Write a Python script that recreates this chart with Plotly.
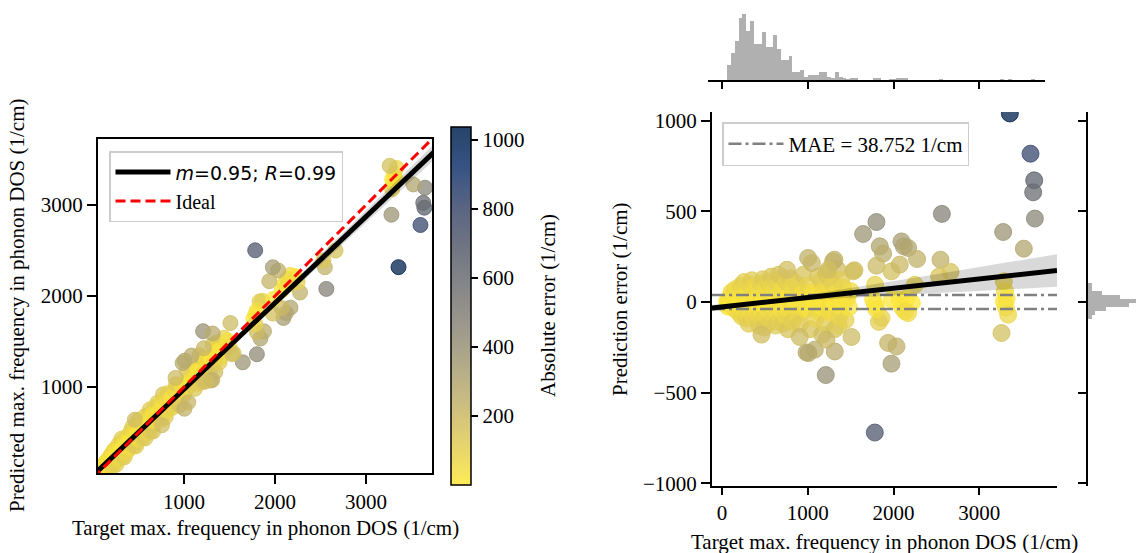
import numpy as np
import plotly.graph_objects as go

W, H = 1137, 553
FONT = "Liberation Serif, Times New Roman, serif"

# ---------------- data ----------------
# dense part of the data set: target value and prediction error (target - predicted)
cluster_target = [60, 66, 72, 85, 95, 100,
                  108, 112, 115, 122, 130, 138, 140, 145,
                  150, 155, 158, 165, 170, 172, 178, 185, 188, 190,
                  195, 198, 200, 205, 210, 212, 215, 218, 220, 225, 228, 230, 232, 235,
                  240, 243, 245, 248, 250, 255, 258, 260, 262, 265, 270, 272, 275, 278, 280,
                  285, 290, 295, 298, 300, 305, 310, 312, 315, 320, 325,
                  330, 335, 338, 340, 345, 348, 350, 355, 358, 360, 365, 368, 370,
                  375, 382, 386, 390, 398, 402, 405, 412,
                  420, 428, 432, 435, 442, 446, 450, 458,
                  465, 470, 474, 478, 485, 488, 492, 496, 500, 503,
                  510, 518, 522, 525, 532, 540, 547,
                  555, 562, 570, 575, 578, 585, 592,
                  598, 605, 608, 612, 620, 624, 628, 632, 635,
                  642, 650, 658, 660, 665, 672, 680,
                  688, 698, 708, 718, 725,
                  732, 742, 752, 762, 770,
                  778, 788, 798, 808, 815,
                  822, 840, 858, 870, 895, 912, 930, 948, 975,
                  1005, 1010, 1030, 1050, 1060, 1080, 1090, 1110, 1120,
                  1140, 1150, 1155, 1170, 1180, 1185, 1200, 1215, 1230,
                  1240, 1250, 1260, 1290, 1300, 1315, 1330, 1345, 1350,
                  1360, 1370, 1380, 1390, 1410, 1420, 1440, 1460, 1480, 1500]
cluster_error = [5, -25, -12, 20, -8, 30,
                 -20, 55, 15, 40, -5, 10, 25, -35,
                 12, 70, -40, 30, -30, 0, -15, 45, 20, -55,
                 -10, 60, 25, -60, 8, -45, 50, 90, -25, 15, 0, -80, -20, 35,
                 20, -65, -30, 30, 5, 65, 110, -15, -5, 40, -50, 80, 10, -20, -90,
                 15, -40, 55, 45, -10, 30, -70, -120, 5, 95, -25,
                 -15, 40, -5, -55, 20, 120, 75, -30, -45, 10, -85, 25, 50,
                 30, -20, 85, 60, -60, -35, 10, -100,
                 -10, 45, -130, -75, 20, 65, 100, -40,
                 35, -55, 125, 15, -95, -5, 70, -140, -20, 50,
                 -30, 60, 0, -80, 20, 105, -50,
                 40, -15, -110, 140, 80, -60, 15,
                 -25, 55, 30, -85, 10, -130, 120, 75, -45,
                 20, -60, 95, 150, -20, 45, -100,
                 -40, 70, -120, 30, -10,
                 55, -75, 110, -30, -150,
                 25, -90, 130, -50, 80,
                 -110, 60, -20, 100, -70, -120, 40, 150, -40,
                 90, -30, -150, 50, 30, -10, -90, 20, 140,
                 -60, -20, 120, -180, 10, 60, -120, 160, 40,
                 -40, 130, -60, 100, 0, -150, 50, 180, 30,
                 -130, -80, -20, 120, 80, 10, -100, 20, -30, 60]

# core of the cluster: small errors
core_target = [80, 90, 105, 118, 128, 135, 148, 160, 168, 175, 182, 193, 202, 208,
               222, 238, 246, 252, 268, 276, 283, 292, 302, 308, 318, 328, 342, 352,
               362, 372, 380, 395, 408, 418, 425, 440, 455, 462, 480, 498, 508, 515,
               528, 536, 545, 552, 566, 582, 590, 602, 615, 638, 646, 655, 668, 676,
               685, 694, 704, 714, 722, 738, 748, 758, 768, 785, 795, 805, 830, 850,
               880, 905, 940, 960, 990, 1020, 1070, 1100, 1130, 1165, 1195, 1225,
               1270, 1320, 1400, 1450]
core_error = [10, -5, 0, -10, 20, -15, 5, 15, -20, 25, -5, 10, -15, 30,
              5, -10, 15, -25, 20, -5, 30, -15, 10, -30, 20, 0, 15, -20,
              35, -10, 5, -25, 20, -5, 30, -20, 10, -30, 25, 0, -15, 35,
              -5, 15, -25, 5, 25, -10, 40, -35, 5, 20, -15, 30, -5, 15,
              -30, 10, 25, -20, 40, 0, -25, 15, 35, -10, 20, -35, 10, -25,
              30, -10, 20, -30, 5, 35, -25, 10, -40, 25, -15, 5,
              30, -20, -5, 35]
core2_target = [100, 110, 125, 142, 152, 163, 176, 186, 196, 204,
                214, 224, 234, 242, 254, 264, 274, 286, 296, 306,
                316, 326, 336, 346, 356, 366, 378, 388, 400, 414,
                430, 448, 468, 484, 506, 520, 534, 558, 572, 596,
                610, 626, 644, 662, 690, 710, 735, 760, 790, 820,
                860, 900, 950, 1000, 1040, 1100, 1160, 1210, 1280, 1340,
                1380]
core2_error = [-15, 25, -30, 5, 35, -10, 20, -35, 45, -5,
               15, -40, 25, 50, -20, 10, 35, -45, 0, 55,
               -15, 30, -35, 5, 45, -20, 60, -10, 25, -50,
               40, -15, 55, -30, 20, -60, 45, -5, 30, 60,
               -25, -55, 40, -10, 50, -40, 15, -50, 45, 0,
               60, -45, 25, 55, -20, 45, -50, 70, -35, 55,
               -60]

# sparse / outlying points
outlier_target = [3357, 3598, 3641, 3629, 3649, 2564, 3279, 3520, 1801, 1646,
                  1840, 1879, 2093, 2120, 2170, 2275, 2548, 2665, 2532, 1801,
                  1976, 2073, 1529, 3287, 3300, 3287, 3320, 3310, 3337, 3260,
                  2249, 2073, 2100, 2150, 2170, 2214, 1860, 1830, 1800, 1762,
                  1785, 1785, 1980, 2135, 1937, 2035, 1976, 1782, 1210, 1510,
                  1315, 1082, 985, 1218, 907, 460, 1004, 1295, 758, 1047,
                  1311, 1241, 1545, 1008]
outlier_error = [1040, 818, 671, 605, 460, 486, 386, 294, 441, 375,
                 307, 267, 334, 307, 298, 237, 233, 166, 141, 200,
                 169, 206, 169, 114, 60, 3, 20, -30, -70, -171,
                 95, 13, -30, 20, -61, -6, -88, -110, -40, 13,
                 -15, 95, 13, -52, -226, -245, -340, -720, -403, -193,
                 -273, -263, -278, -208, -193, -180, 243, 224, 178, 215,
                 233, 178, 175, -282]

# regression results shown in the figure
fit_slope = 0.9486
fit_intercept = 27.0
mae = 38.752
color_max = 1037.0

# confidence band half-width of the regression
band_t = [-117, 500, 1000, 1500, 2000, 2500, 3000, 3500, 3907]
band_half = [18, 5, 15, 26, 39, 52, 66, 79, 90]

# marginal histograms
target_hist_start = 58.0
target_hist_width = 44.9
target_hist_counts = [22, 40, 57, 91, 97, 72, 86, 52, 52, 71,
                      48, 48, 66, 46, 30, 30, 35, 12, 11, 14,
                      5, 7, 7, 7, 11, 12, 5, 3, 12, 5,
                      2, 1, 2, 2, 0, 0, 0, 0, 3, 2,
                      0, 0, 1, 1, 3, 3, 3, 0, 0, 0,
                      0, 0, 0, 0, 0, 1, 0, 0, 0, 0,
                      0, 0, 0, 0, 0, 0, 0, 0, 0, 0,
                      0, 1, 0, 1, 0, 0, 0, 0, 0, 1]
error_hist_centers = [94, 72, 50, 29, 7, -15, -37, -59, -81]
error_hist_width = 22
error_hist_counts = [7, 8, 28, 62, 94, 80, 36, 14, 7]

# axis settings
left_range = [55, 3725]
right_x_range = [-117, 3907]
right_y_range = [-1015, 1048]
top_x_range = [-164, 3767]

# ---------------- derived ----------------
target = np.array(core_target + core2_target + cluster_target + outlier_target, float)
prediction_error = np.array(core_error + core2_error + cluster_error + outlier_error, float)
predicted = target - prediction_error
abs_error = np.abs(prediction_error)

bt = np.array(band_t, float)
bh = np.array(band_half, float)
fit_pred = fit_slope * bt + fit_intercept
fit_err = bt - fit_pred

cividis = ["#00224e", "#123570", "#3b496c", "#575d6d", "#707173",
           "#8a8678", "#a59c74", "#c3b369", "#e1cc55", "#fee838"][::-1]


def rgb(h):
    h = h.lstrip("#")
    return tuple(int(h[i:i + 2], 16) for i in (0, 2, 4))


n = len(cividis)
fill_scale = [[i / (n - 1), "rgba(%d,%d,%d,0.75)" % rgb(c)] for i, c in enumerate(cividis)]
edge_scale = [[i / (n - 1), "rgba(%d,%d,%d,0.8)" % rgb(c)] for i, c in enumerate(cividis)]
bar_scale = [[i / (n - 1), "rgb(%d,%d,%d)" % tuple(round(v * 0.85 + 255 * 0.15) for v in rgb(c))]
             for i, c in enumerate(cividis)]


def px_x(p):
    return p / W


def px_y(p):
    return 1 - p / H


def marker(size):
    return dict(size=size, color=abs_error, colorscale=fill_scale, cmin=0, cmax=color_max,
                showscale=False,
                line=dict(width=1, color=abs_error, colorscale=edge_scale, cmin=0, cmax=color_max))


fig = go.Figure()

# ---------- left panel ----------
fig.add_trace(go.Scatter(x=target, y=predicted, mode="markers", marker=marker(15),
                         xaxis="x", yaxis="y", showlegend=False, hoverinfo="skip"))
fig.add_trace(go.Scatter(x=bt, y=fit_pred - bh, mode="lines", line=dict(width=0),
                         xaxis="x", yaxis="y", showlegend=False, hoverinfo="skip"))
fig.add_trace(go.Scatter(x=bt, y=fit_pred + bh, mode="lines", line=dict(width=0), fill="tonexty",
                         fillcolor="rgba(0,0,0,0.15)", xaxis="x", yaxis="y",
                         showlegend=False, hoverinfo="skip"))
fig.add_trace(go.Scatter(x=[bt[0], bt[-1]], y=[fit_pred[0], fit_pred[-1]], mode="lines",
                         line=dict(color="black", width=5),
                         name='<span style="font-family:DejaVu Sans;font-size:19px"><i>m</i>=0.95; <i>R</i>=0.99</span>',
                         xaxis="x", yaxis="y", legend="legend"))
fig.add_trace(go.Scatter(x=[0, 4000], y=[0, 4000], mode="lines",
                         line=dict(color="red", width=3, dash="10px,5px"), name="Ideal",
                         xaxis="x", yaxis="y", legend="legend"))

# colour bar (opaque version of the colour map)
fig.add_trace(go.Scatter(x=[None], y=[None], mode="markers", xaxis="x", yaxis="y",
                         showlegend=False, hoverinfo="skip",
                         marker=dict(color=[0], colorscale=bar_scale, cmin=0, cmax=color_max,
                                     showscale=True,
                                     colorbar=dict(x=px_x(451), xanchor="left", xpad=0, ypad=0,
                                                   y=px_y(306), yanchor="middle", len=358,
                                                   lenmode="pixels", thickness=20,
                                                   outlinewidth=1.5, outlinecolor="black",
                                                   ticks="outside", ticklen=7, tickwidth=1.5,
                                                   tickcolor="black",
                                                   tickvals=[200, 400, 600, 800, 1000],
                                                   tickfont=dict(family=FONT, size=21, color="black")))))

# ---------- right panel ----------
fig.add_trace(go.Scatter(x=target, y=prediction_error, mode="markers", marker=marker(17),
                         xaxis="x2", yaxis="y2", showlegend=False, hoverinfo="skip"))
fig.add_trace(go.Scatter(x=right_x_range, y=[mae, mae], mode="lines",
                         line=dict(color="#808080", width=2.5, dash="13px,4px,3px,4px"),
                         name="MAE = %.3f 1/cm" % mae, xaxis="x2", yaxis="y2", legend="legend2"))
fig.add_trace(go.Scatter(x=right_x_range, y=[-mae, -mae], mode="lines",
                         line=dict(color="#808080", width=2.5, dash="13px,4px,3px,4px"),
                         showlegend=False, xaxis="x2", yaxis="y2", hoverinfo="skip"))
fig.add_trace(go.Scatter(x=bt, y=fit_err - bh, mode="lines", line=dict(width=0),
                         xaxis="x2", yaxis="y2", showlegend=False, hoverinfo="skip"))
fig.add_trace(go.Scatter(x=bt, y=fit_err + bh, mode="lines", line=dict(width=0), fill="tonexty",
                         fillcolor="rgba(0,0,0,0.15)", xaxis="x2", yaxis="y2",
                         showlegend=False, hoverinfo="skip"))
fig.add_trace(go.Scatter(x=[bt[0], bt[-1]], y=[fit_err[0], fit_err[-1]], mode="lines",
                         line=dict(color="black", width=5), xaxis="x2", yaxis="y2",
                         showlegend=False, hoverinfo="skip"))

# top marginal histogram (targets)
centers = target_hist_start + target_hist_width * (np.arange(len(target_hist_counts)) + 0.5)
fig.add_trace(go.Bar(x=centers, y=target_hist_counts, width=target_hist_width,
                     marker=dict(color="#b0b0b0", line=dict(width=0)),
                     xaxis="x3", yaxis="y3", showlegend=False, hoverinfo="skip"))
# right marginal histogram (errors)
fig.add_trace(go.Bar(y=error_hist_centers, x=error_hist_counts, width=error_hist_width,
                     orientation="h", marker=dict(color="#b0b0b0", line=dict(width=0)),
                     xaxis="x4", yaxis="y4", showlegend=False, hoverinfo="skip"))

tickfont = dict(family=FONT, size=21, color="black")
common = dict(showgrid=False, zeroline=False, showline=True, linecolor="black", linewidth=2,
              ticks="outside", tickcolor="black", tickwidth=1.5, tickfont=tickfont,
              automargin=False)

fig.update_layout(
    width=W, height=H, margin=dict(l=0, r=0, t=0, b=0),
    paper_bgcolor="white", plot_bgcolor="white",
    font=dict(family=FONT, size=21, color="black"),
    bargap=0,
    xaxis=dict(domain=[px_x(98), px_x(432)], range=left_range, anchor="y", mirror=True,
               ticklen=9, tickvals=[1000, 2000, 3000], **common),
    yaxis=dict(domain=[px_y(473), px_y(139)], range=left_range, anchor="x", mirror=True,
               ticklen=9, tickvals=[1000, 2000, 3000], **common),
    xaxis2=dict(domain=[px_x(712), px_x(1057)], range=right_x_range, anchor="y2",
                ticklen=7, tickvals=[0, 1000, 2000, 3000], **common),
    yaxis2=dict(domain=[px_y(486), px_y(112)], range=right_y_range, anchor="x2",
                ticklen=9, tickvals=[-1000, -500, 0, 500, 1000], **common),
    xaxis3=dict(domain=[px_x(708), px_x(1045)], range=top_x_range, anchor="y3",
                ticklen=7, tickvals=[0, 1000, 2000, 3000], showticklabels=False, **common),
    yaxis3=dict(domain=[px_y(80), px_y(10)], range=[0, 102.5], anchor="x3", visible=False),
    xaxis4=dict(domain=[px_x(1088), 1.0], range=[0, 96], anchor="y4", visible=False),
    yaxis4=dict(domain=[px_y(486), px_y(112)], range=right_y_range, anchor="x4",
                ticklen=8, tickvals=[-1000, -500, 0, 500, 1000], showticklabels=False, **common),
    legend=dict(x=px_x(109), y=px_y(151), xanchor="left", yanchor="top",
                bgcolor="rgba(255,255,255,0.8)", bordercolor="#cccccc", borderwidth=1.5,
                font=dict(family=FONT, size=20, color="black"), tracegroupgap=2,
                itemwidth=55, traceorder="normal"),
    legend2=dict(x=px_x(722), y=px_y(122), xanchor="left", yanchor="top",
                 bgcolor="rgba(255,255,255,0.8)", bordercolor="#cccccc", borderwidth=1.5,
                 font=dict(family=FONT, size=21, color="black"), itemwidth=55),
)

ann = dict(showarrow=False, xref="paper", yref="paper", font=dict(family=FONT, size=21, color="black"))
fig.add_annotation(text="Target max. frequency in phonon DOS (1/cm)", x=px_x(265), y=px_y(528),
                   xanchor="center", yanchor="middle", **ann)
fig.add_annotation(text="Predicted max. frequency in phonon DOS (1/cm)", x=px_x(17), y=px_y(306),
                   xanchor="center", yanchor="middle", textangle=-90, **ann)
fig.add_annotation(text="Absolute error (1/cm)", x=px_x(548), y=px_y(306),
                   xanchor="center", yanchor="middle", textangle=-90, **ann)
fig.add_annotation(text="Target max. frequency in phonon DOS (1/cm)", x=px_x(884), y=px_y(542),
                   xanchor="center", yanchor="middle", **ann)
fig.add_annotation(text="Prediction error (1/cm)", x=px_x(620), y=px_y(299),
                   xanchor="center", yanchor="middle", textangle=-90, **ann)

fig.write_html("out.html")
